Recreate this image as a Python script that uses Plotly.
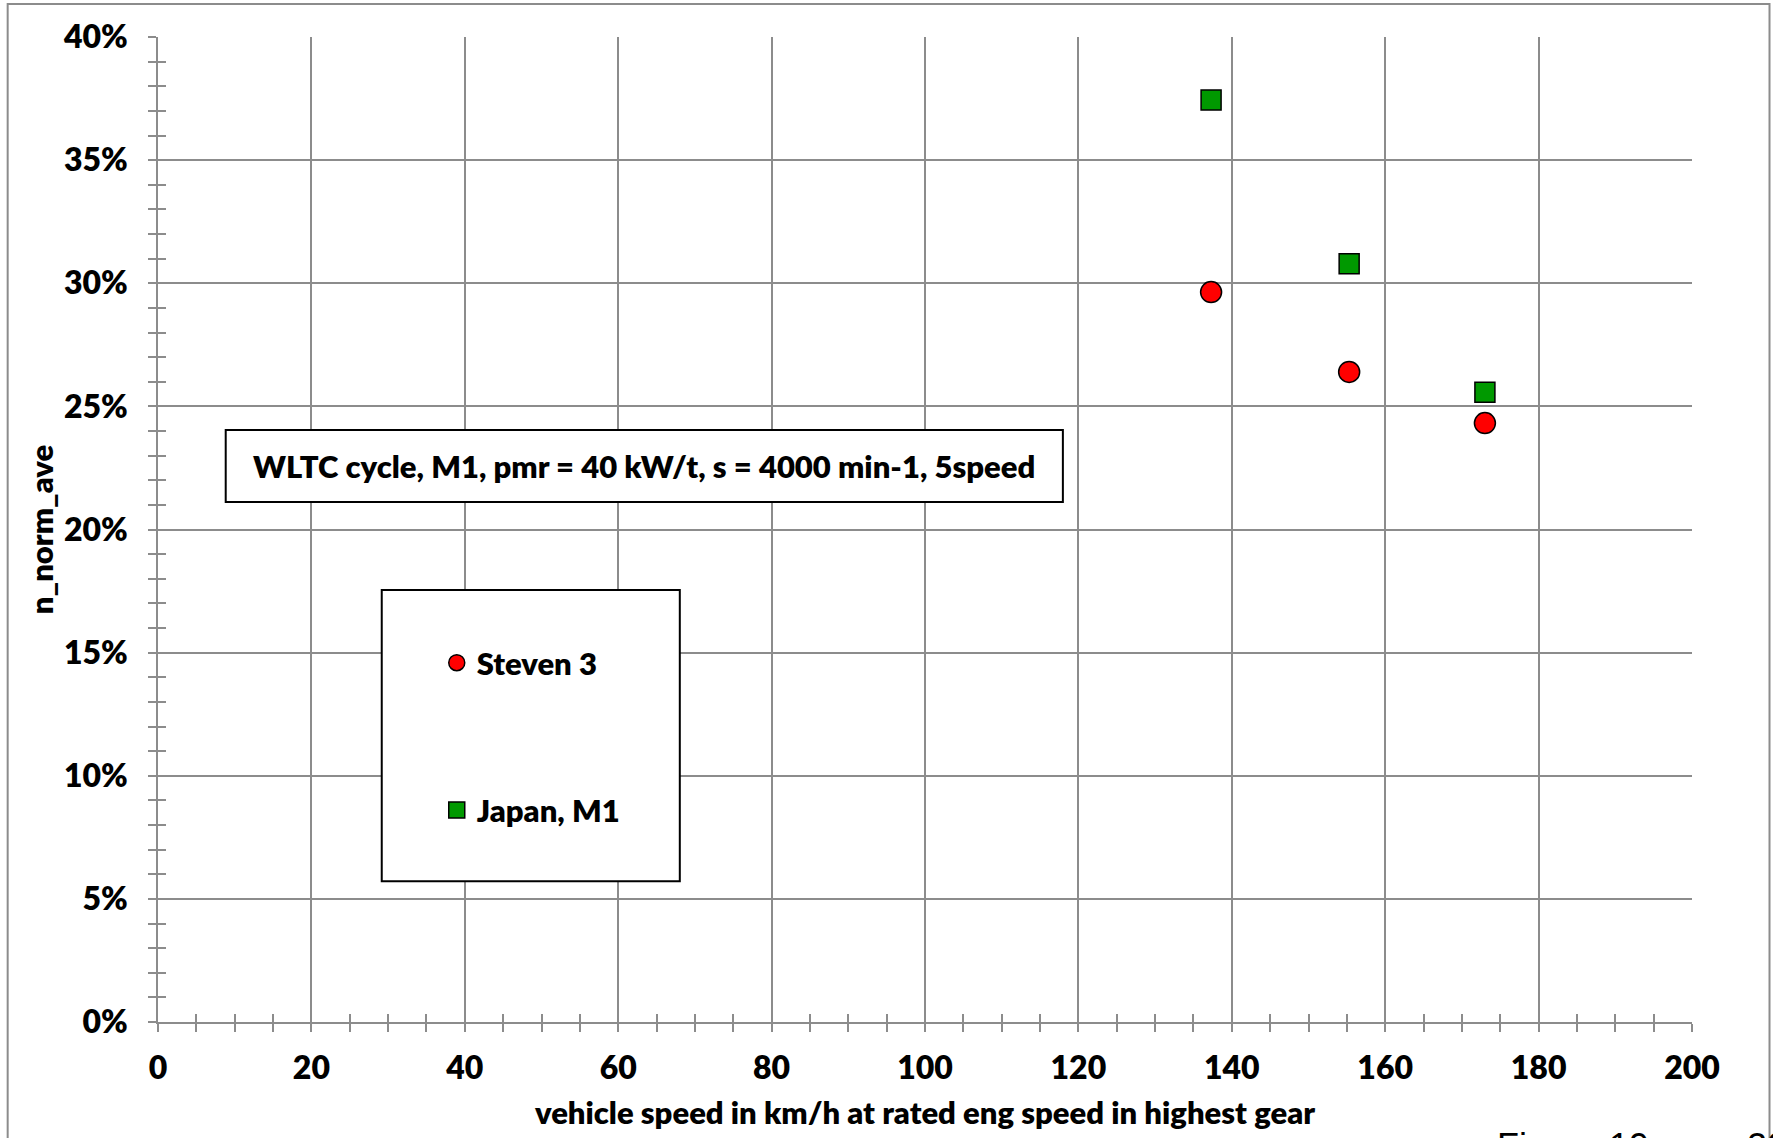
import plotly.graph_objects as go

# ---- data ----
speed = [137.3, 155.3, 173.0]
steven3 = [0.2964, 0.2640, 0.2432]
japan_m1 = [0.3744, 0.3079, 0.2557]
series_names = ["Steven 3", "Japan, M1"]
x_title = "vehicle speed in km/h at rated eng speed in highest gear"
y_title = "n_norm_ave"
box_text = "WLTC cycle, M1, pmr = 40 kW/t, s = 4000 min-1, 5speed"

W, H = 1773, 1138
PL, PR, PT, PB = 158.3, 1692.0, 37.3, 1021.7


def px_x(p):
    return (p - PL) / (PR - PL)


def px_y(p):
    return (PB - p) / (PB - PT)


FONT = "Lato"
GRID = "#8c8c8c"
WT = 800
fs = 31
fs_tick = 32

fig = go.Figure()
fig.add_trace(go.Scatter(
    x=speed, y=steven3, mode="markers", name=series_names[0], legendgroup="a",
    marker=dict(symbol="circle", size=21, color="#ff0000", line=dict(color="black", width=1.5)),
))
fig.add_trace(go.Scatter(
    x=speed, y=japan_m1, mode="markers", name=series_names[1], legendgroup="b",
    marker=dict(symbol="square", size=20, color="#009900", line=dict(color="black", width=1.5)),
))
# helper (empty) trace so the overlay axes carrying the inner tick halves are drawn
fig.add_trace(go.Scatter(x=[None], y=[None], xaxis="x2", yaxis="y2", showlegend=False,
                         hoverinfo="skip"))

axis_common = dict(showline=True, linecolor=GRID, linewidth=1.5, zeroline=False,
                   tickcolor=GRID, tickwidth=1.5, ticklen=8, automargin=False)

fig.update_layout(
    width=W, height=H,
    margin=dict(l=PL, r=W - PR, t=PT, b=H - PB, pad=0, autoexpand=False),
    paper_bgcolor="white", plot_bgcolor="white",
    font=dict(family=FONT, size=fs, color="black", weight=WT),
    xaxis=dict(range=[0, 200], dtick=20, tick0=0, showgrid=True, gridcolor=GRID, gridwidth=1.5,
               ticks="outside", ticklabelstandoff=9,
               tickfont=dict(size=fs_tick, weight=WT),
               minor=dict(dtick=5, ticks="outside", ticklen=8, tickcolor=GRID, tickwidth=1.5, showgrid=False),
               title=dict(text=x_title, standoff=17, font=dict(size=fs, weight=WT)),
               **axis_common),
    yaxis=dict(range=[0, 0.40], dtick=0.05, tick0=0, tickformat=".0%", showgrid=True,
               gridcolor=GRID, gridwidth=1.5, ticks="outside", ticklabelstandoff=14,
               tickfont=dict(size=fs_tick, weight=WT),
               minor=dict(dtick=0.01, ticks="outside", ticklen=8, tickcolor=GRID, tickwidth=1.5, showgrid=False),
               title=dict(text=y_title, standoff=0, font=dict(size=fs, weight=WT)),
               **axis_common),
    xaxis2=dict(range=[0, 200], overlaying="x", anchor="y2", side="bottom", dtick=20, tick0=0,
                showgrid=False, showticklabels=False, ticks="inside",
                minor=dict(dtick=5, ticks="inside", ticklen=8, tickcolor=GRID, tickwidth=1.5),
                **axis_common),
    yaxis2=dict(range=[0, 0.40], overlaying="y", anchor="x2", side="left", dtick=0.05, tick0=0,
                showgrid=False, showticklabels=False, ticks="inside",
                minor=dict(dtick=0.01, ticks="inside", ticklen=8, tickcolor=GRID, tickwidth=1.5),
                **axis_common),
    showlegend=True,
    legend=dict(x=px_x(437), y=px_y(636), xanchor="left", yanchor="top",
                bgcolor="rgba(0,0,0,0)", borderwidth=0, traceorder="grouped",
                tracegroupgap=104, itemsizing="trace",
                font=dict(family=FONT, size=fs, color="black", weight=WT)),
)

shapes = [
    # outer frame
    dict(type="rect", xref="paper", yref="paper", x0=px_x(8), x1=px_x(1769.5),
         y0=px_y(1160), y1=px_y(4.3), line=dict(color=GRID, width=2), layer="below"),
    # info box
    dict(type="rect", xref="paper", yref="paper", x0=px_x(226), x1=px_x(1063),
         y0=px_y(502), y1=px_y(430), line=dict(color="black", width=2),
         fillcolor="white", layer="above"),
    # legend frame
    dict(type="rect", xref="paper", yref="paper", x0=px_x(382), x1=px_x(680),
         y0=px_y(881), y1=px_y(590), line=dict(color="black", width=2),
         fillcolor="white", layer="above"),
]
fig.update_layout(shapes=shapes)

fig.add_annotation(xref="paper", yref="paper", x=px_x(644.5), y=px_y(466),
                   text=box_text, showarrow=False, xanchor="center", yanchor="middle",
                   font=dict(family=FONT, size=fs, color="black", weight=WT))
fig.add_annotation(xref="paper", yref="paper", x=px_x(1495), y=px_y(1124),
                   text="Figure 19", showarrow=False, xanchor="left", yanchor="top",
                   font=dict(family="Liberation Sans", size=36, color="black", weight="normal"))
fig.add_annotation(xref="paper", yref="paper", x=px_x(1745), y=px_y(1124),
                   text="20", showarrow=False, xanchor="left", yanchor="top",
                   font=dict(family="Liberation Sans", size=36, color="black", weight="normal"))

fig.write_html("out.html")
